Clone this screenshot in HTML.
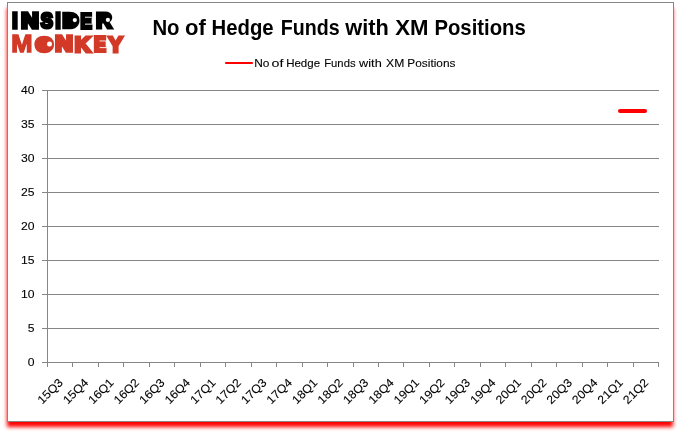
<!DOCTYPE html>
<html lang="en">
<head>
<meta charset="utf-8">
<title>No of Hedge Funds with XM Positions</title>
<style>
html,body{margin:0;padding:0;background:#fff;}
body{width:680px;height:433px;position:relative;overflow:hidden;font-family:"Liberation Sans",sans-serif;}
#frame{position:absolute;left:7px;top:2px;width:665px;height:418px;border:1px solid #868686;background:#fff;
  box-shadow:-0.5px 5.5px 4px -0.5px #ff0000;}
svg{position:absolute;left:0;top:0;}
.ax{font-family:"Liberation Sans",sans-serif;font-size:11.7px;fill:#000;stroke:#000;stroke-width:0.1px;}
.title{font-family:"Liberation Sans",sans-serif;font-size:21.3px;font-weight:bold;fill:#000;}
.leg{font-family:"Liberation Sans",sans-serif;font-size:11.5px;fill:#000;stroke:#000;stroke-width:0.1px;}
.logo{font-family:"Liberation Sans",sans-serif;font-weight:bold;font-size:26px;stroke-linejoin:miter;}
</style>
</head>
<body>
<div id="frame"></div>
<svg width="680" height="433" viewBox="0 0 680 433">
<text class="logo" fill="#000" stroke="#000"><tspan x="11.24" y="28.70" textLength="7.33" lengthAdjust="spacingAndGlyphs" style="font-size:23.78px" stroke-width="1.6">I</tspan><tspan x="21.22" y="27.80" textLength="17.44" lengthAdjust="spacingAndGlyphs" style="font-size:21.26px" stroke-width="3.4">N</tspan><tspan x="40.87" y="27.90" textLength="12.16" lengthAdjust="spacingAndGlyphs" style="font-size:21.54px" stroke-width="3.2">S</tspan><tspan x="54.46" y="28.70" textLength="7.08" lengthAdjust="spacingAndGlyphs" style="font-size:23.78px" stroke-width="1.6">I</tspan><tspan x="61.90" y="28.20" textLength="17.15" lengthAdjust="spacingAndGlyphs" style="font-size:22.38px" stroke-width="2.6">D</tspan><tspan x="80.68" y="27.60" textLength="10.86" lengthAdjust="spacingAndGlyphs" style="font-size:20.70px" stroke-width="3.8">E</tspan><tspan x="96.14" y="28.00" textLength="15.96" lengthAdjust="spacingAndGlyphs" style="font-size:21.82px" stroke-width="3.0">R</tspan></text>
<text class="logo" fill="#d23a27" stroke="#d23a27"><tspan x="11.15" y="52.40" textLength="21.23" lengthAdjust="spacingAndGlyphs" style="font-size:24.06px" stroke-width="1.4">M</tspan><tspan x="34.65" y="51.80" textLength="18.91" lengthAdjust="spacingAndGlyphs" style="font-size:22.38px" stroke-width="2.6">O</tspan><tspan x="55.22" y="51.40" textLength="17.44" lengthAdjust="spacingAndGlyphs" style="font-size:21.26px" stroke-width="3.4">N</tspan><tspan x="74.86" y="51.50" textLength="15.88" lengthAdjust="spacingAndGlyphs" style="font-size:21.54px" stroke-width="3.2">K</tspan><tspan x="94.30" y="51.20" textLength="11.38" lengthAdjust="spacingAndGlyphs" style="font-size:20.70px" stroke-width="3.8">E</tspan><tspan x="108.35" y="51.70" textLength="14.69" lengthAdjust="spacingAndGlyphs" style="font-size:22.10px" stroke-width="2.8">Y</tspan></text>
<rect x="66" y="13" width="9" height="14.5" fill="#000"/>
<circle cx="74.8" cy="20.1" r="2.1" fill="#fff"/>
<rect x="100" y="13" width="9" height="9" fill="#000"/>
<circle cx="107.9" cy="19.9" r="2.1" fill="#fff"/>
<ellipse cx="44.1" cy="43.9" rx="6.5" ry="7" fill="#d23a27"/>
<circle cx="49.5" cy="43.9" r="2.5" fill="#fff"/>
<rect x="85" y="16.7" width="7.8" height="1.1" fill="#fff" opacity="0.85"/>
<rect x="85" y="23.6" width="7.8" height="1.1" fill="#fff" opacity="0.85"/>
<rect x="99.6" y="40.4" width="7.4" height="1.1" fill="#fff" opacity="0.8"/>
<rect x="99.6" y="47.0" width="7.4" height="1.1" fill="#fff" opacity="0.8"/>
<text y="35" class="title"><tspan x="152.43" textLength="27.14" lengthAdjust="spacingAndGlyphs">No</tspan> <tspan x="185.01" textLength="20.85" lengthAdjust="spacingAndGlyphs">of</tspan> <tspan x="211.53" textLength="62.08" lengthAdjust="spacingAndGlyphs">Hedge</tspan> <tspan x="280.67" textLength="58.92" lengthAdjust="spacingAndGlyphs">Funds</tspan> <tspan x="345.34" textLength="43.51" lengthAdjust="spacingAndGlyphs">with</tspan> <tspan x="395.30" textLength="33.25" lengthAdjust="spacingAndGlyphs">XM</tspan> <tspan x="434.43" textLength="91.39" lengthAdjust="spacingAndGlyphs">Positions</tspan></text>
<line x1="226" y1="63" x2="252" y2="63" stroke="#ff0000" stroke-width="2.2" stroke-linecap="round"/>
<text y="67" class="leg"><tspan x="254.27" textLength="15.21" lengthAdjust="spacingAndGlyphs">No</tspan> <tspan x="271.55" textLength="11.90" lengthAdjust="spacingAndGlyphs">of</tspan> <tspan x="286.20" textLength="33.86" lengthAdjust="spacingAndGlyphs">Hedge</tspan> <tspan x="324.22" textLength="31.33" lengthAdjust="spacingAndGlyphs">Funds</tspan> <tspan x="359.10" textLength="22.62" lengthAdjust="spacingAndGlyphs">with</tspan> <tspan x="386.11" textLength="18.21" lengthAdjust="spacingAndGlyphs">XM</tspan> <tspan x="407.37" textLength="48.10" lengthAdjust="spacingAndGlyphs">Positions</tspan></text>
<line x1="42" y1="90.5" x2="659.0" y2="90.5" stroke="#868686" stroke-width="1"/>
<text transform="translate(34.6 94.0) scale(1.04 1)" text-anchor="end" class="ax">40</text>
<line x1="42" y1="124.5" x2="659.0" y2="124.5" stroke="#868686" stroke-width="1"/>
<text transform="translate(34.6 128.0) scale(1.04 1)" text-anchor="end" class="ax">35</text>
<line x1="42" y1="158.5" x2="659.0" y2="158.5" stroke="#868686" stroke-width="1"/>
<text transform="translate(34.6 162.0) scale(1.04 1)" text-anchor="end" class="ax">30</text>
<line x1="42" y1="192.5" x2="659.0" y2="192.5" stroke="#868686" stroke-width="1"/>
<text transform="translate(34.6 196.0) scale(1.04 1)" text-anchor="end" class="ax">25</text>
<line x1="42" y1="226.5" x2="659.0" y2="226.5" stroke="#868686" stroke-width="1"/>
<text transform="translate(34.6 230.0) scale(1.04 1)" text-anchor="end" class="ax">20</text>
<line x1="42" y1="260.5" x2="659.0" y2="260.5" stroke="#868686" stroke-width="1"/>
<text transform="translate(34.6 264.0) scale(1.04 1)" text-anchor="end" class="ax">15</text>
<line x1="42" y1="294.5" x2="659.0" y2="294.5" stroke="#868686" stroke-width="1"/>
<text transform="translate(34.6 298.0) scale(1.04 1)" text-anchor="end" class="ax">10</text>
<line x1="42" y1="328.5" x2="659.0" y2="328.5" stroke="#868686" stroke-width="1"/>
<text transform="translate(34.6 332.0) scale(1.04 1)" text-anchor="end" class="ax">5</text>
<line x1="42" y1="362.5" x2="659.0" y2="362.5" stroke="#868686" stroke-width="1"/>
<text transform="translate(34.6 366.0) scale(1.04 1)" text-anchor="end" class="ax">0</text>
<line x1="47.5" y1="90.0" x2="47.5" y2="363.0" stroke="#868686" stroke-width="1"/>
<line x1="47.5" y1="362.5" x2="47.5" y2="367.0" stroke="#868686" stroke-width="1"/>
<line x1="72.5" y1="362.5" x2="72.5" y2="367.0" stroke="#868686" stroke-width="1"/>
<line x1="98.5" y1="362.5" x2="98.5" y2="367.0" stroke="#868686" stroke-width="1"/>
<line x1="123.5" y1="362.5" x2="123.5" y2="367.0" stroke="#868686" stroke-width="1"/>
<line x1="149.5" y1="362.5" x2="149.5" y2="367.0" stroke="#868686" stroke-width="1"/>
<line x1="174.5" y1="362.5" x2="174.5" y2="367.0" stroke="#868686" stroke-width="1"/>
<line x1="200.5" y1="362.5" x2="200.5" y2="367.0" stroke="#868686" stroke-width="1"/>
<line x1="225.5" y1="362.5" x2="225.5" y2="367.0" stroke="#868686" stroke-width="1"/>
<line x1="251.5" y1="362.5" x2="251.5" y2="367.0" stroke="#868686" stroke-width="1"/>
<line x1="276.5" y1="362.5" x2="276.5" y2="367.0" stroke="#868686" stroke-width="1"/>
<line x1="302.5" y1="362.5" x2="302.5" y2="367.0" stroke="#868686" stroke-width="1"/>
<line x1="327.5" y1="362.5" x2="327.5" y2="367.0" stroke="#868686" stroke-width="1"/>
<line x1="353.5" y1="362.5" x2="353.5" y2="367.0" stroke="#868686" stroke-width="1"/>
<line x1="378.5" y1="362.5" x2="378.5" y2="367.0" stroke="#868686" stroke-width="1"/>
<line x1="403.5" y1="362.5" x2="403.5" y2="367.0" stroke="#868686" stroke-width="1"/>
<line x1="429.5" y1="362.5" x2="429.5" y2="367.0" stroke="#868686" stroke-width="1"/>
<line x1="454.5" y1="362.5" x2="454.5" y2="367.0" stroke="#868686" stroke-width="1"/>
<line x1="480.5" y1="362.5" x2="480.5" y2="367.0" stroke="#868686" stroke-width="1"/>
<line x1="505.5" y1="362.5" x2="505.5" y2="367.0" stroke="#868686" stroke-width="1"/>
<line x1="531.5" y1="362.5" x2="531.5" y2="367.0" stroke="#868686" stroke-width="1"/>
<line x1="556.5" y1="362.5" x2="556.5" y2="367.0" stroke="#868686" stroke-width="1"/>
<line x1="582.5" y1="362.5" x2="582.5" y2="367.0" stroke="#868686" stroke-width="1"/>
<line x1="607.5" y1="362.5" x2="607.5" y2="367.0" stroke="#868686" stroke-width="1"/>
<line x1="633.5" y1="362.5" x2="633.5" y2="367.0" stroke="#868686" stroke-width="1"/>
<line x1="658.5" y1="362.5" x2="658.5" y2="367.0" stroke="#868686" stroke-width="1"/>
<text transform="translate(63.6 383.3) rotate(-45) scale(1.06 1)" text-anchor="end" class="ax">15Q3</text>
<text transform="translate(89.1 383.3) rotate(-45) scale(1.06 1)" text-anchor="end" class="ax">15Q4</text>
<text transform="translate(114.5 383.3) rotate(-45) scale(1.06 1)" text-anchor="end" class="ax">16Q1</text>
<text transform="translate(140.0 383.3) rotate(-45) scale(1.06 1)" text-anchor="end" class="ax">16Q2</text>
<text transform="translate(165.5 383.3) rotate(-45) scale(1.06 1)" text-anchor="end" class="ax">16Q3</text>
<text transform="translate(190.9 383.3) rotate(-45) scale(1.06 1)" text-anchor="end" class="ax">16Q4</text>
<text transform="translate(216.4 383.3) rotate(-45) scale(1.06 1)" text-anchor="end" class="ax">17Q1</text>
<text transform="translate(241.8 383.3) rotate(-45) scale(1.06 1)" text-anchor="end" class="ax">17Q2</text>
<text transform="translate(267.3 383.3) rotate(-45) scale(1.06 1)" text-anchor="end" class="ax">17Q3</text>
<text transform="translate(292.8 383.3) rotate(-45) scale(1.06 1)" text-anchor="end" class="ax">17Q4</text>
<text transform="translate(318.2 383.3) rotate(-45) scale(1.06 1)" text-anchor="end" class="ax">18Q1</text>
<text transform="translate(343.7 383.3) rotate(-45) scale(1.06 1)" text-anchor="end" class="ax">18Q2</text>
<text transform="translate(369.1 383.3) rotate(-45) scale(1.06 1)" text-anchor="end" class="ax">18Q3</text>
<text transform="translate(394.6 383.3) rotate(-45) scale(1.06 1)" text-anchor="end" class="ax">18Q4</text>
<text transform="translate(420.0 383.3) rotate(-45) scale(1.06 1)" text-anchor="end" class="ax">19Q1</text>
<text transform="translate(445.5 383.3) rotate(-45) scale(1.06 1)" text-anchor="end" class="ax">19Q2</text>
<text transform="translate(471.0 383.3) rotate(-45) scale(1.06 1)" text-anchor="end" class="ax">19Q3</text>
<text transform="translate(496.4 383.3) rotate(-45) scale(1.06 1)" text-anchor="end" class="ax">19Q4</text>
<text transform="translate(521.9 383.3) rotate(-45) scale(1.06 1)" text-anchor="end" class="ax">20Q1</text>
<text transform="translate(547.3 383.3) rotate(-45) scale(1.06 1)" text-anchor="end" class="ax">20Q2</text>
<text transform="translate(572.8 383.3) rotate(-45) scale(1.06 1)" text-anchor="end" class="ax">20Q3</text>
<text transform="translate(598.3 383.3) rotate(-45) scale(1.06 1)" text-anchor="end" class="ax">20Q4</text>
<text transform="translate(623.7 383.3) rotate(-45) scale(1.06 1)" text-anchor="end" class="ax">21Q1</text>
<text transform="translate(649.2 383.3) rotate(-45) scale(1.06 1)" text-anchor="end" class="ax">21Q2</text>
<line x1="620" y1="111" x2="645" y2="111" stroke="#ff0000" stroke-width="4.1" stroke-linecap="round"/>
</svg>
</body>
</html>
